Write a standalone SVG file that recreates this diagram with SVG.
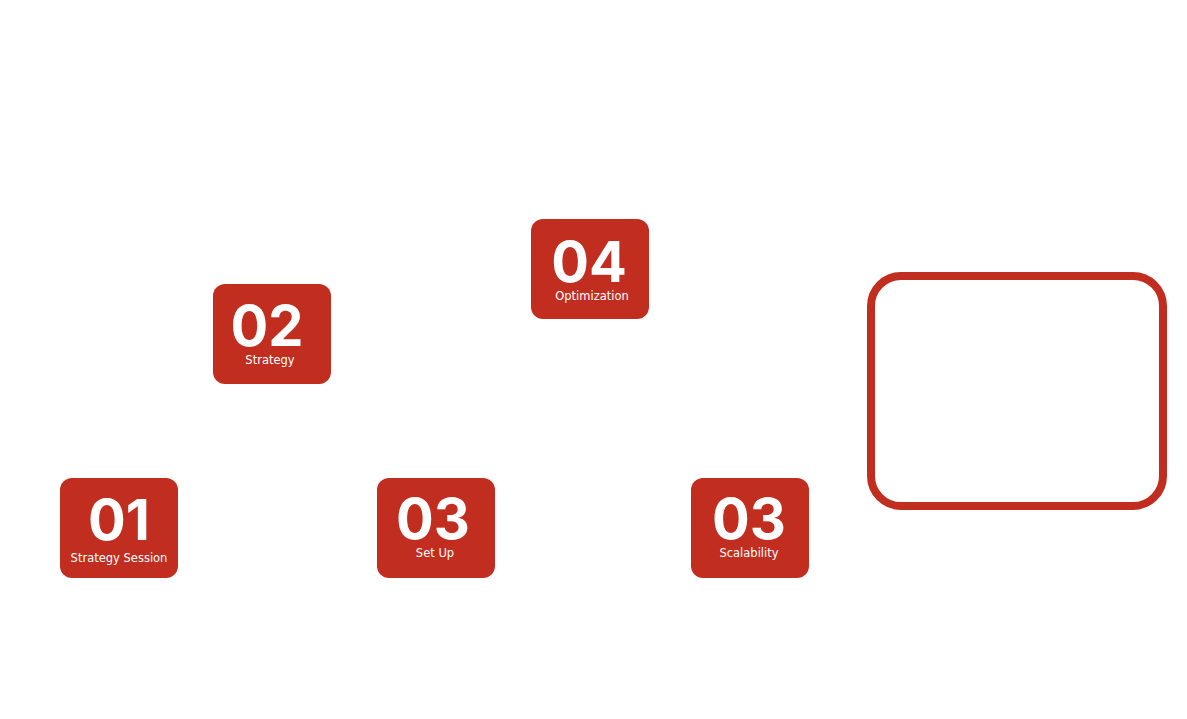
<svg xmlns="http://www.w3.org/2000/svg" width="1187" height="719" viewBox="0 0 1187 719">
<style>
.box{fill:#C12D1E}
.num{font-family:Inter,"Noto Sans",sans-serif;font-weight:700;font-size:56px;fill:#fff;text-anchor:middle}
.lbl{font-family:"DejaVu Sans","Noto Sans",sans-serif;font-size:11.5px;fill:#fff;text-anchor:middle}
</style>
<rect width="1187" height="719" fill="#fff"/>
<g id="connectors"></g>
<g id="n01"><rect class="box" x="60" y="478" width="118" height="100" rx="12"/><text class="num" x="119" y="540">01</text><text class="lbl" x="119" y="562">Strategy Session</text></g>
<g id="n02"><rect class="box" x="213" y="284" width="118" height="100" rx="12"/><text class="num" x="267" y="346">02</text><text class="lbl" x="270" y="364">Strategy</text></g>
<g id="n04"><rect class="box" x="531" y="219" width="118" height="100" rx="12"/><text class="num" x="589" y="282">04</text><text class="lbl" x="592" y="300">Optimization</text></g>
<g id="n03a"><rect class="box" x="377" y="478" width="118" height="100" rx="12"/><text class="num" x="433" y="539">03</text><text class="lbl" x="435" y="557">Set Up</text></g>
<g id="n03b"><rect class="box" x="691" y="478" width="118" height="100" rx="12"/><text class="num" x="749" y="539">03</text><text class="lbl" x="749" y="557">Scalability</text></g>
<g id="frame"><rect x="871" y="276" width="292" height="230" rx="30" fill="none" stroke="#C12D1E" stroke-width="8"/></g>
</svg>
